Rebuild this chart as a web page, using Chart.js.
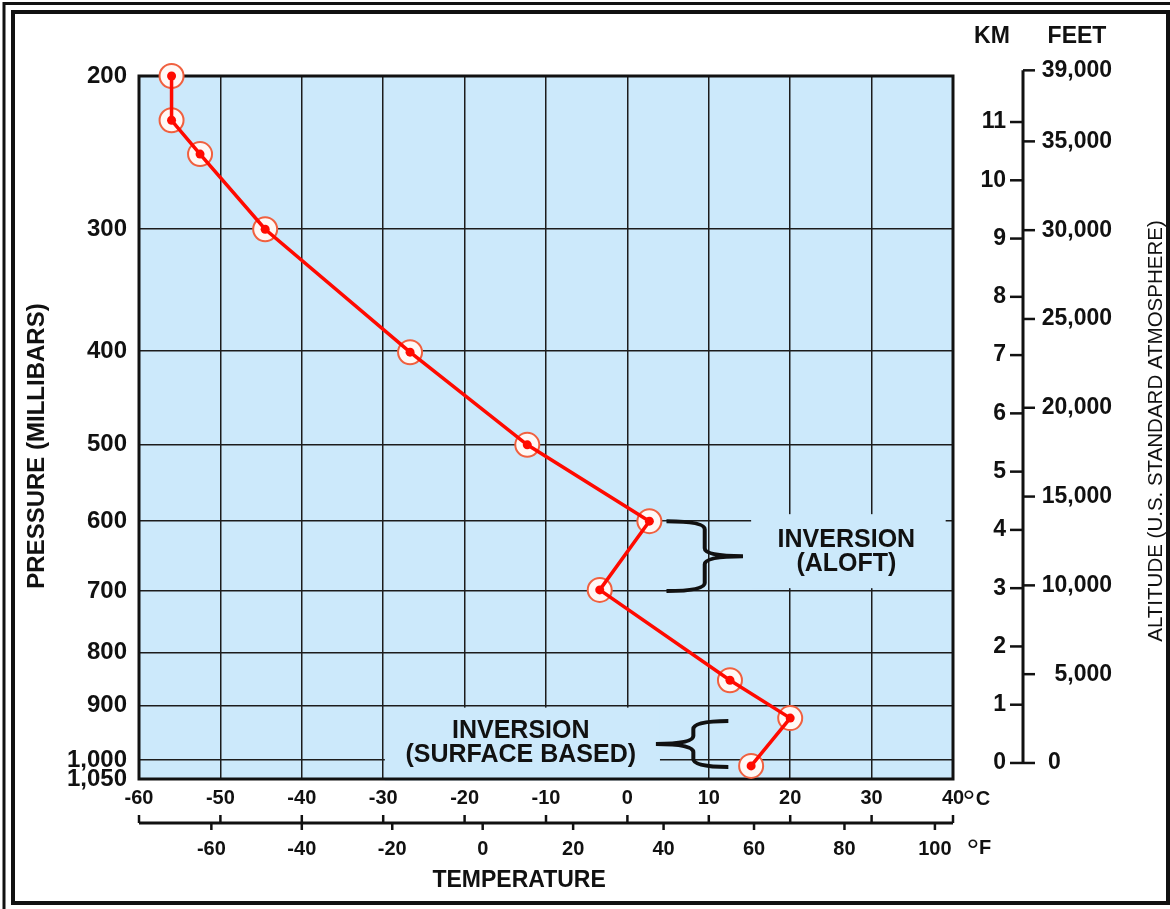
<!DOCTYPE html>
<html>
<head>
<meta charset="utf-8">
<title>Temperature inversions</title>
<script src="https://cdn.jsdelivr.net/npm/chart.js@4.4.1/dist/chart.umd.min.js"></script>
<style>
  html, body { margin: 0; padding: 0; background: #fff; }
  canvas { display: block; }
</style>
</head>
<body>
<canvas id="soundingChart" width="1170" height="909"></canvas>
<script>
// Sounding: temperature (deg C) and height on the km scale
const tempC = [-56, -56, -52.5, -44.5, -26.7, -12.3, 2.7, -3.4, 12.6, 20, 15.2];
const altKm = [11.79, 11.03, 10.45, 9.16, 7.05, 5.46, 4.15, 2.97, 1.42, 0.77, -0.05];

// Pressure axis labels and where each level sits on the km scale
const pressureLabels = ['200', '300', '400', '500', '600', '700', '800', '900', '1,000', '1,050'];
const pressureAltKm = [11.79, 9.16, 7.07, 5.46, 4.15, 2.95, 1.90, 0.98, 0.05, -0.275];

const celsiusTicks = [-60, -50, -40, -30, -20, -10, 0, 10, 20, 30, 40];
const fahrenheitTicks = [-60, -40, -20, 0, 20, 40, 60, 80, 100];
const kmTicks = [0, 1, 2, 3, 4, 5, 6, 7, 8, 9, 10, 11];
const feetTicks = [0, 5000, 10000, 15000, 20000, 25000, 30000, 35000, 39000];
const feetLabels = ['0', '5,000', '10,000', '15,000', '20,000', '25,000', '30,000', '35,000', '39,000'];

const PLOT_BG = '#cce9fb';
const INK = '#111111';
const FONT = '"Liberation Sans", Arial, sans-serif';
const KM_PER_FOOT = 0.0003048;

Chart.defaults.font.family = FONT;

const points = tempC.map((t, i) => ({ x: t, y: altKm[i] }));

function brace(ctx, armX, stemX, tipX, yTop, yBot) {
    const yMid = (yTop + yBot) / 2;
    const r = 8;
    ctx.beginPath();
    ctx.moveTo(armX, yTop);
    ctx.quadraticCurveTo(stemX, yTop, stemX, yTop + r);
    ctx.lineTo(stemX, yMid - r);
    ctx.quadraticCurveTo(stemX, yMid, tipX, yMid);
    ctx.quadraticCurveTo(stemX, yMid, stemX, yMid + r);
    ctx.lineTo(stemX, yBot - r);
    ctx.quadraticCurveTo(stemX, yBot, armX, yBot);
    ctx.stroke();
}

function text(ctx, str, x, y, font, align) {
    ctx.font = font;
    ctx.textAlign = align || 'center';
    ctx.textBaseline = 'middle';
    ctx.fillText(str, x, y);
}

// Plot background, cleared patches behind the notes, frame of the plot
const backdrop = {
    id: 'backdrop',
    beforeDraw(chart) {
        const { ctx, chartArea: a } = chart;
        ctx.save();
        ctx.fillStyle = '#fff';
        ctx.fillRect(0, 0, chart.width, chart.height);
        ctx.fillStyle = PLOT_BG;
        ctx.fillRect(a.left, a.top, a.right - a.left, a.bottom - a.top);
        ctx.restore();
    },
    beforeDatasetsDraw(chart) {
        const { ctx, chartArea: a, scales: { x, y } } = chart;
        ctx.save();
        ctx.fillStyle = PLOT_BG;
        const gaps = [[15.2, 39.1, 4.27, 3.0], [-29.8, 4.0, 0.95, -0.3]];
        gaps.forEach(([t0, t1, h0, h1]) => {
            const x0 = x.getPixelForValue(t0), x1 = x.getPixelForValue(t1);
            const y0 = y.getPixelForValue(h0), y1 = y.getPixelForValue(h1);
            ctx.fillRect(x0, y0, x1 - x0, y1 - y0);
        });
        ctx.strokeStyle = INK;
        ctx.lineWidth = 3;
        ctx.strokeRect(a.left, a.top, a.right - a.left, a.bottom - a.top);
        ctx.restore();
    },
    afterDraw(chart) {
        const { ctx, chartArea: a, scales: { x, y } } = chart;
        ctx.save();
        ctx.fillStyle = INK;
        ctx.strokeStyle = INK;

        // second temperature scale (deg F) under the plot
        const lineY = a.bottom + 44;
        ctx.lineWidth = 3;
        ctx.beginPath();
        ctx.moveTo(x.getPixelForValue(-60), lineY);
        ctx.lineTo(x.getPixelForValue(40), lineY);
        ctx.stroke();
        ctx.lineWidth = 2.5;
        celsiusTicks.forEach(t => {
            const px = x.getPixelForValue(t);
            ctx.beginPath();
            ctx.moveTo(px, lineY - 8);
            ctx.lineTo(px, lineY);
            ctx.stroke();
        });
        fahrenheitTicks.forEach(f => {
            const px = x.getPixelForValue((f - 32) * 5 / 9);
            ctx.beginPath();
            ctx.moveTo(px, lineY);
            ctx.lineTo(px, lineY + 7);
            ctx.stroke();
            text(ctx, String(f), px, lineY + 26, 'bold 20px ' + FONT);
        });
        text(ctx, '°', a.right + 16, a.bottom + 24, '32px ' + FONT);
        text(ctx, 'C', a.right + 30, a.bottom + 20, 'bold 20px ' + FONT);
        text(ctx, '°', a.right + 20, lineY + 29, '32px ' + FONT);
        text(ctx, 'F', a.right + 32, lineY + 25, 'bold 20px ' + FONT);
        text(ctx, 'TEMPERATURE', x.getPixelForValue(-13.3), a.bottom + 102, 'bold 23px ' + FONT);

        // altitude scales, km on the left of the rule and feet on the right
        const axisX = a.right + 70;
        ctx.lineWidth = 3;
        ctx.beginPath();
        ctx.moveTo(axisX, y.getPixelForValue(39000 * KM_PER_FOOT));
        ctx.lineTo(axisX, y.getPixelForValue(0));
        ctx.stroke();
        ctx.lineWidth = 2.5;
        kmTicks.forEach(k => {
            const py = y.getPixelForValue(k);
            ctx.beginPath();
            ctx.moveTo(axisX - 13, py);
            ctx.lineTo(axisX, py);
            ctx.stroke();
            text(ctx, String(k), axisX - 17, py, 'bold 23px ' + FONT, 'right');
        });
        feetTicks.forEach((ft, i) => {
            const py = y.getPixelForValue(ft * KM_PER_FOOT);
            ctx.beginPath();
            ctx.moveTo(axisX, py);
            ctx.lineTo(axisX + 12, py);
            ctx.stroke();
            if (ft === 0) {
                text(ctx, feetLabels[i], axisX + 25, py, 'bold 23px ' + FONT, 'left');
            } else {
                text(ctx, feetLabels[i], axisX + 89, py, 'bold 23px ' + FONT, 'right');
            }
        });
        text(ctx, 'KM', axisX - 31, 37, 'bold 23px ' + FONT);
        text(ctx, 'FEET', axisX + 54, 37, 'bold 23px ' + FONT);

        // axis titles
        ctx.save();
        ctx.translate(37, 446);
        ctx.rotate(-Math.PI / 2);
        text(ctx, 'PRESSURE (MILLIBARS)', 0, 0, 'bold 24px ' + FONT);
        ctx.restore();
        ctx.save();
        ctx.translate(1156, 431);
        ctx.rotate(-Math.PI / 2);
        text(ctx, 'ALTITUDE (U.S. STANDARD ATMOSPHERE)', 0, 0, '20.5px ' + FONT);
        ctx.restore();

        // inversion notes
        ctx.lineWidth = 4;
        brace(ctx, x.getPixelForValue(4.8), x.getPixelForValue(9.5), x.getPixelForValue(14.2),
            y.getPixelForValue(4.15), y.getPixelForValue(2.95));
        brace(ctx, x.getPixelForValue(12.4), x.getPixelForValue(8.1), x.getPixelForValue(3.5),
            y.getPixelForValue(0.72), y.getPixelForValue(-0.07));
        const noteFont = 'bold 25px ' + FONT;
        text(ctx, 'INVERSION', x.getPixelForValue(26.9), y.getPixelForValue(3.83), noteFont);
        text(ctx, '(ALOFT)', x.getPixelForValue(26.9), y.getPixelForValue(3.42), noteFont);
        text(ctx, 'INVERSION', x.getPixelForValue(-13.1), y.getPixelForValue(0.55), noteFont);
        text(ctx, '(SURFACE BASED)', x.getPixelForValue(-13.1), y.getPixelForValue(0.14), noteFont);

        // double frame round the figure
        ctx.lineWidth = 3;
        ctx.strokeRect(4, 3.5, 1300, 1000);
        ctx.lineWidth = 4;
        ctx.strokeRect(13, 12, 1155, 891);
        ctx.restore();
    }
};

new Chart(document.getElementById('soundingChart'), {
    type: 'scatter',
    data: {
        datasets: [
            {
                data: points,
                showLine: true,
                borderColor: '#ff0a00',
                borderWidth: 3.5,
                pointRadius: 4.5,
                pointBackgroundColor: '#ff0a00',
                pointBorderWidth: 0,
                clip: false
            },
            {
                data: points,
                showLine: false,
                pointRadius: 12,
                pointBackgroundColor: '#fff8f5',
                pointBorderColor: '#f0603f',
                pointBorderWidth: 2,
                clip: false
            }
        ]
    },
    options: {
        responsive: false,
        animation: false,
        devicePixelRatio: 1,
        layout: { padding: { top: 76, right: 217, bottom: 90, left: 0 } },
        plugins: { legend: { display: false }, tooltip: { enabled: false } },
        scales: {
            x: {
                type: 'linear',
                min: -60,
                max: 40,
                afterBuildTicks: scale => { scale.ticks = celsiusTicks.map(v => ({ value: v })); },
                afterFit: scale => { scale.height = 40; },
                grid: { color: '#1c1c1c', lineWidth: 1.5, drawTicks: false },
                border: { display: false },
                ticks: { color: INK, padding: 7, autoSkip: false, maxRotation: 0,
                    font: { size: 20, weight: 'bold' } }
            },
            y: {
                type: 'linear',
                min: -0.275,
                max: 11.79,
                afterBuildTicks: scale => { scale.ticks = pressureAltKm.map(v => ({ value: v })); },
                afterFit: scale => { scale.width = 139; },
                grid: { color: '#1c1c1c', lineWidth: 1.5, drawTicks: false },
                border: { display: false },
                ticks: {
                    color: INK, padding: 12, autoSkip: false,
                    font: { size: 24, weight: 'bold' },
                    callback: (value, index) => pressureLabels[index]
                }
            }
        }
    },
    plugins: [backdrop]
});
</script>
</body>
</html>
